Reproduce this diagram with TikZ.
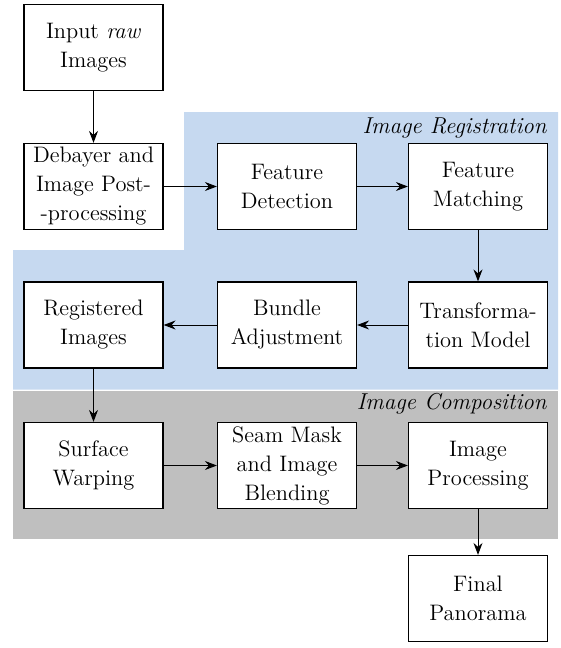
\documentclass[tikz,border=0pt]{standalone}
\usetikzlibrary{arrows.meta}
\definecolor{regblue}{RGB}{198,217,240}
\definecolor{compgray}{RGB}{191,191,191}
\begin{document}
\begin{tikzpicture}[x=0.5pt,y=-0.5pt,
  stepbox/.style={draw, line width=0.6pt, fill=white, minimum width=69.5pt, minimum height=43pt, align=center, inner sep=1pt, font=\fontsize{11.2}{14.5}\selectfont},
  conn/.style={line width=0.5pt, -{Stealth[length=6pt,width=4.5pt,inset=2pt]}},
  grouplabel/.style={font=\fontsize{11.5}{14.5}\selectfont\itshape, anchor=base east, inner sep=0pt}]
\useasboundingbox (0,0) rectangle (561,648);
\fill[regblue] (184,112) -- (558,112) -- (558,389.5) -- (13,389.5) -- (13,250) -- (184,250) -- cycle;
\fill[compgray] (13,390.5) rectangle (558,539);
\node[grouplabel] (lreg) at (547,133) {Image Registration};
\node[grouplabel] (lcomp) at (547,409) {Image Composition};
\node[stepbox] (input) at (93.5,47.5) {Input \textit{raw}\\Images};
\node[stepbox] (debayer) at (93.5,186.5) {Debayer and\\Image Post-\\-processing};
\node[stepbox] (fdet) at (287,186.5) {Feature\\Detection};
\node[stepbox] (fmatch) at (478,186.5) {Feature\\Matching};
\node[stepbox] (trans) at (478,325) {Transforma-\\tion Model};
\node[stepbox] (bundle) at (287,325) {Bundle\\Adjustment};
\node[stepbox] (reg) at (93.5,325) {Registered\\Images};
\node[stepbox] (warp) at (93.5,465.5) {Surface\\Warping};
\node[stepbox] (seam) at (287,465.5) {Seam Mask\\and Image\\Blending};
\node[stepbox] (proc) at (478,465.5) {Image\\Processing};
\node[stepbox] (final) at (478,598.5) {Final\\Panorama};
\draw[conn] (input) -- (debayer);
\draw[conn] (debayer) -- (fdet);
\draw[conn] (fdet) -- (fmatch);
\draw[conn] (fmatch) -- (trans);
\draw[conn] (trans) -- (bundle);
\draw[conn] (bundle) -- (reg);
\draw[conn] (reg) -- (warp);
\draw[conn] (warp) -- (seam);
\draw[conn] (seam) -- (proc);
\draw[conn] (proc) -- (final);
\end{tikzpicture}
\end{document}
